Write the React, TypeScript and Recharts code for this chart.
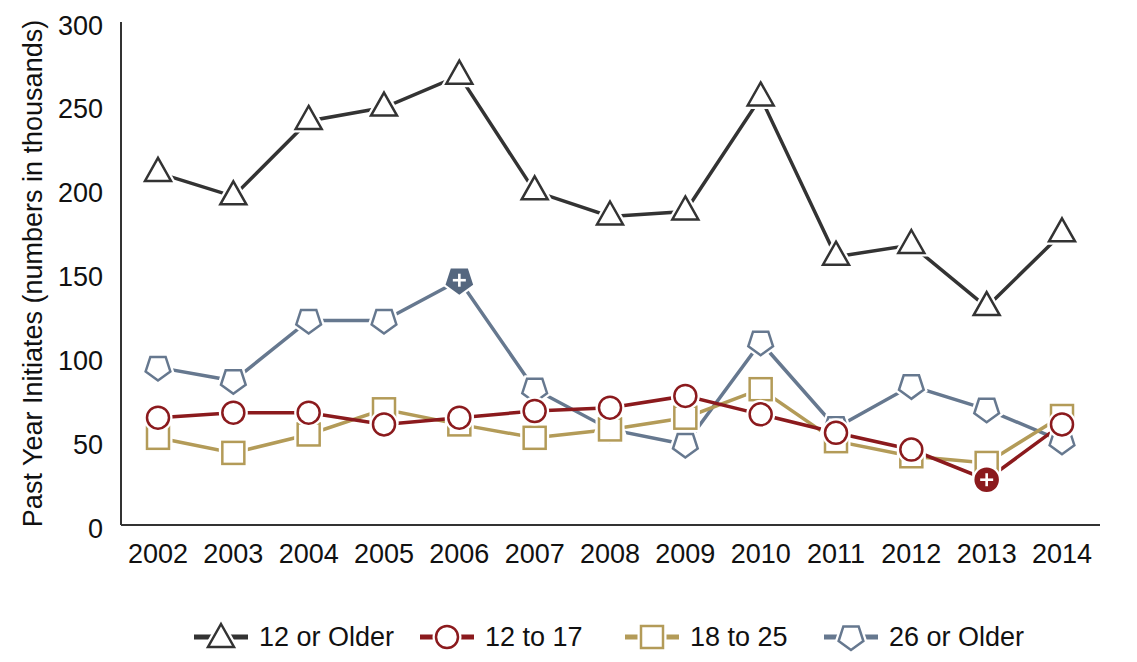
import React from "react";
import { Line, LineChart, XAxis, YAxis } from "recharts";

const YEARS = ["2002", "2003", "2004", "2005", "2006", "2007", "2008", "2009", "2010", "2011", "2012", "2013", "2014"];
const OLDER_12 = [210, 196, 241, 249, 268, 199, 184, 187, 255, 160, 167, 130, 174];
const AGE_12_17 = [64, 67, 67, 60, 64, 68, 70, 77, 66, 55, 45, 27, 60];
const AGE_18_25 = [52, 43, 54, 69, 60, 52, 57, 64, 81, 50, 41, 37, 65];
const OLDER_26 = [94, 86, 122, 122, 146, 81, 57, 48, 109, 58, 83, 69, 50];
const Y_TICKS = [0, 50, 100, 150, 200, 250, 300];

// highlighted points (filled marker with a plus)
const HIGHLIGHT: Record<string, number> = { older26: 4, age1217: 11 };

const FONT = "'Liberation Sans', Arial, sans-serif";
const C_DARK = "#333333";
const C_RED = "#8b1a1d";
const C_GOLD = "#b39b58";
const C_SLATE = "#66788f";
const C_SLATE_FILL = "#55677f";

type Shape = "triangle" | "circle" | "square" | "pentagon";

const data = YEARS.map((year, i) => ({
  year,
  older12: OLDER_12[i],
  age1217: AGE_12_17[i],
  age1825: AGE_18_25[i],
  older26: OLDER_26[i],
}));

function shapeEl(shape: Shape, cx: number, cy: number, props: any) {
  if (shape === "circle") return <circle cx={cx} cy={cy} r={11} {...props} />;
  if (shape === "square") return <rect x={cx - 11} y={cy - 11} width={22} height={22} {...props} />;
  if (shape === "triangle") {
    const pts = `${cx},${cy - 15} ${cx + 13},${cy + 8} ${cx - 13},${cy + 8}`;
    return <polygon points={pts} {...props} />;
  }
  const r = 13;
  const pts = [0, 1, 2, 3, 4]
    .map((k) => {
      const a = Math.PI / 2 + (k * 2 * Math.PI) / 5;
      return `${cx + r * Math.cos(a)},${cy + r * Math.sin(a)}`;
    })
    .join(" ");
  return <polygon points={pts} {...props} />;
}

function Marker({ shape, cx, cy, color, filled, fillColor }: { shape: Shape; cx: number; cy: number; color: string; filled?: boolean; fillColor?: string }) {
  return (
    <g>
      {shapeEl(shape, cx, cy, { fill: "#fff", stroke: "#fff", strokeWidth: 7, strokeLinejoin: "miter" })}
      {shapeEl(shape, cx, cy, {
        fill: filled ? fillColor ?? color : "#fff",
        stroke: filled ? fillColor ?? color : color,
        strokeWidth: 2.5,
      })}
      {filled && (
        <g stroke="#fff" strokeWidth={2.6}>
          <line x1={cx - 6.5} x2={cx + 6.5} y1={cy} y2={cy} />
          <line x1={cx} x2={cx} y1={cy - 6.5} y2={cy + 6.5} />
        </g>
      )}
    </g>
  );
}

const makeDot = (shape: Shape, color: string, key: string, fillColor?: string) => (p: any) => {
  if (p.cx == null || p.cy == null) return <g key={`${key}-${p.index}`} />;
  return (
    <Marker
      key={`${key}-${p.index}`}
      shape={shape}
      cx={p.cx}
      cy={p.cy}
      color={color}
      filled={HIGHLIGHT[key] === p.index}
      fillColor={fillColor}
    />
  );
};

const SERIES: { key: string; name: string; color: string; shape: Shape; fillColor?: string }[] = [
  { key: "older12", name: "12 or Older", color: C_DARK, shape: "triangle" },
  { key: "age1217", name: "12 to 17", color: C_RED, shape: "circle" },
  { key: "age1825", name: "18 to 25", color: C_GOLD, shape: "square" },
  { key: "older26", name: "26 or Older", color: C_SLATE, shape: "pentagon", fillColor: C_SLATE_FILL },
];

// draw order: bottom to top
const DRAW_ORDER = ["older26", "age1825", "age1217", "older12"];

// legend item left edges (symbol start)
const LEGEND_X = [194, 420, 625, 824];

function LegendRow() {
  return (
    <div style={{ position: "absolute", left: 0, top: 617, width: 1137, height: 40, fontFamily: FONT, fontSize: 27, color: "#111" }}>
      {SERIES.map((s, i) => (
        <div key={s.key} style={{ position: "absolute", left: LEGEND_X[i], top: 0, display: "flex", alignItems: "center", height: 40, whiteSpace: "nowrap" }}>
          <svg width={54} height={40} style={{ marginRight: 11 }}>
            <line x1={0} x2={54} y1={20} y2={20} stroke={s.color} strokeWidth={5} />
            <Marker shape={s.shape} cx={27} cy={s.shape === "triangle" ? 22 : 20} color={s.color} />
          </svg>
          <span>{s.name}</span>
        </div>
      ))}
    </div>
  );
}

export default function App() {
  return (
    <div style={{ position: "absolute", left: 0, top: 0, width: 1137, height: 662, background: "#fff" }}>
      <LineChart width={1137} height={662} data={data} margin={{ top: 22, right: 37, left: 0, bottom: 97 }}>
        <XAxis
          dataKey="year"
          height={40}
          stroke={C_DARK}
          strokeWidth={2}
          tickLine={false}
          tickSize={8}
          tickMargin={11}
          padding={{ left: 37, right: 38 }}
          tick={{ fill: "#111", fontSize: 27, fontFamily: FONT }}
          interval={0}
        />
        <YAxis
          width={121}
          domain={[0, 300]}
          ticks={Y_TICKS}
          stroke={C_DARK}
          strokeWidth={2}
          tickLine={false}
          tickSize={8}
          tickMargin={10}
          tick={{ fill: "#111", fontSize: 27, fontFamily: FONT, dy: 3 }}
          label={{
            content: (props: any) => {
              const vb = props.viewBox;
              const cy = vb.y + vb.height / 2;
              return (
                <text
                  x={33}
                  y={cy}
                  transform={`rotate(-90, 33, ${cy})`}
                  textAnchor="middle"
                  dominantBaseline="central"
                  fill="#111"
                  fontSize={27}
                  fontFamily={FONT}
                >
                  Past Year Initiates (numbers in thousands)
                </text>
              );
            },
          }}
        />
        {DRAW_ORDER.map((k) => {
          const s = SERIES.find((x) => x.key === k)!;
          return (
            <Line
              key={s.key}
              dataKey={s.key}
              name={s.name}
              type="linear"
              stroke={s.color}
              strokeWidth={3.5}
              dot={makeDot(s.shape, s.color, s.key, s.fillColor)}
              activeDot={false}
              isAnimationActive={false}
            />
          );
        })}
      </LineChart>
      <LegendRow />
    </div>
  );
}
